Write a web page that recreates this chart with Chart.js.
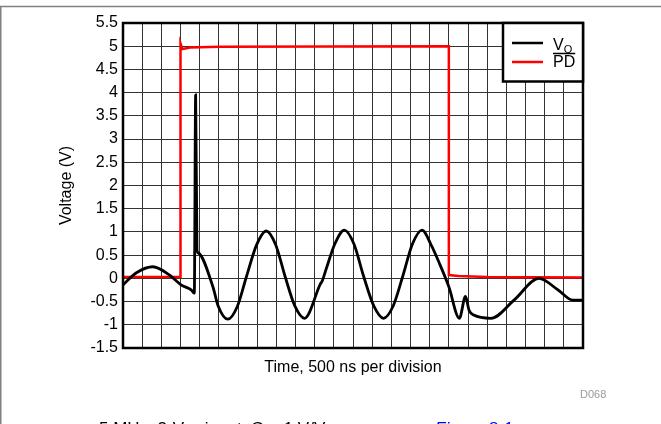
<!DOCTYPE html>
<html>
<head>
<meta charset="utf-8">
<script src="https://cdn.jsdelivr.net/npm/chart.js@4/dist/chart.umd.min.js"></script>
<style>
  body { margin: 0; background: #fff; }
  canvas { display: block; }
</style>
</head>
<body>
<canvas id="myChart" width="661" height="424"></canvas>
<script>
// time is in divisions (500 ns each), values in volts
const voTime = [0, 0.7, 1.56, 2.4, 3.03, 3.56, 3.72, 3.79, 3.86, 3.92, 4.69, 4.97, 5.47, 5.97, 6.45, 6.97, 7.47, 7.97, 8.45, 8.97, 9.47, 10.3, 10.4, 10.6, 11.05, 11.55, 12.05, 12.55, 13.09, 13.59, 14.09, 14.6, 15.1, 15.6, 16.1, 16.5, 17.0, 17.55, 17.87, 18.05, 18.3, 19.2, 20.4, 21.7, 22.7, 23.47, 24];
const voValues = [-0.14, 0.12, 0.25, 0.08, -0.14, -0.25, -0.32, 3.95, 0.62, 0.55, -0.18, -0.6, -0.88, -0.6, 0.05, 0.72, 1.02, 0.72, 0.05, -0.6, -0.86, -0.12, -0.05, 0.2, 0.74, 1.04, 0.74, 0.05, -0.6, -0.86, -0.6, 0.05, 0.74, 1.04, 0.7, 0.33, -0.18, -0.86, -0.39, -0.68, -0.79, -0.86, -0.47, 0.0, -0.25, -0.47, -0.47];

const pdTime = [0, 3.0, 3.0, 3.1, 3.5, 5, 17.0, 17.0, 17.5, 19, 24];
const pdValues = [0.03, 0.03, 5.06, 4.94, 4.97, 4.99, 5.0, 0.07, 0.05, 0.03, 0.02];

const yMin = -1.5;
const yMax = 5.5;
const xDivisions = 24;

const voPoints = voTime.map((t, i) => ({ x: t, y: voValues[i] }));
const pdPoints = pdTime.map((t, i) => ({ x: t, y: pdValues[i] }));

const fontFamily = "'Liberation Sans', Arial, sans-serif";

// frame, axis titles, plot border, legend box and captions
const extras = {
    id: 'extras',
    afterDatasetsDraw(chart) {
        const ctx = chart.ctx;
        const a = chart.chartArea;
        ctx.save();

        // plot border
        ctx.strokeStyle = '#000';
        ctx.lineWidth = 2.5;
        ctx.strokeRect(a.left, a.top, a.right - a.left, a.bottom - a.top);

        // legend box
        const lx = 503, ly = a.top, lw = a.right - 503, lh = 58.5;
        ctx.fillStyle = '#fff';
        ctx.fillRect(lx, ly, lw, lh);
        ctx.strokeRect(lx, ly, lw, lh);
        ctx.lineWidth = 2.5;
        ctx.beginPath();
        ctx.strokeStyle = '#000';
        ctx.moveTo(512, 43); ctx.lineTo(543, 43);
        ctx.stroke();
        ctx.beginPath();
        ctx.strokeStyle = '#ff0000';
        ctx.moveTo(512, 62); ctx.lineTo(543, 62);
        ctx.stroke();

        ctx.fillStyle = '#000';
        ctx.strokeStyle = '#000';
        ctx.textAlign = 'left';
        ctx.textBaseline = 'alphabetic';
        ctx.font = '16px ' + fontFamily;
        ctx.fillText('V', 553, 50);
        const vw = ctx.measureText('V').width;
        ctx.font = '11px ' + fontFamily;
        ctx.fillText('O', 553 + vw, 53);
        ctx.font = '16px ' + fontFamily;
        ctx.fillText('PD', 553, 67);
        const pw = ctx.measureText('PD').width;
        ctx.lineWidth = 1.5;
        ctx.beginPath();
        ctx.moveTo(553, 53.5); ctx.lineTo(553 + pw, 53.5);
        ctx.stroke();

        // axis titles
        ctx.font = '16px ' + fontFamily;
        ctx.textAlign = 'center';
        ctx.textBaseline = 'middle';
        ctx.fillText('Time, 500 ns per division', (a.left + a.right) / 2, 368);
        ctx.save();
        ctx.translate(67, (a.top + a.bottom) / 2);
        ctx.rotate(-Math.PI / 2);
        ctx.fillText('Voltage (V)', 0, 0);
        ctx.restore();

        // figure id
        ctx.fillStyle = '#999';
        ctx.font = '11px ' + fontFamily;
        ctx.textAlign = 'left';
        ctx.fillText('D068', 580, 395);

        // outer frame
        ctx.strokeStyle = '#808080';
        ctx.lineWidth = 1.5;
        ctx.beginPath();
        ctx.moveTo(0, 6.5); ctx.lineTo(661, 6.5);
        ctx.moveTo(0.75, 6.5); ctx.lineTo(0.75, 424);
        ctx.stroke();

        // caption, mostly cut off by the bottom edge
        ctx.font = '17px ' + fontFamily;
        ctx.textBaseline = 'alphabetic';
        ctx.fillStyle = '#000';
        let cx = 99;
        ctx.fillText('5 MHz, 2-V', cx, 434);
        cx += ctx.measureText('5 MHz, 2-V').width;
        ctx.font = '12px ' + fontFamily;
        ctx.fillText('PP', cx, 438);
        cx += ctx.measureText('PP').width;
        ctx.font = '17px ' + fontFamily;
        ctx.fillText(' input, G = 1 V/V, see ', cx, 434);
        ctx.fillStyle = '#0000ff';
        ctx.font = 'italic 17px ' + fontFamily;
        ctx.fillText('Figure 8-1', 435, 434);

        ctx.restore();
    }
};

new Chart('myChart', {
    type: 'line',
    data: {
        datasets: [
            {
                label: 'VO',
                data: voPoints,
                borderColor: '#000',
                borderWidth: 2.8,
                pointRadius: 0,
                cubicInterpolationMode: 'monotone',
                fill: false
            },
            {
                label: 'PD',
                data: pdPoints,
                borderColor: '#ff0000',
                borderWidth: 2.5,
                pointRadius: 0,
                tension: 0,
                fill: false
            }
        ]
    },
    options: {
        responsive: false,
        animation: false,
        devicePixelRatio: 1,
        layout: { padding: { top: 23, right: 78, left: 0, bottom: 0 } },
        plugins: {
            legend: { display: false },
            tooltip: { enabled: false }
        },
        scales: {
            x: {
                type: 'linear',
                min: 0,
                max: xDivisions,
                ticks: { stepSize: 1, display: false },
                grid: { color: '#333', lineWidth: 1, drawTicks: false },
                border: { display: false },
                afterFit: s => { s.height = 76; }
            },
            y: {
                min: yMin,
                max: yMax,
                ticks: {
                    stepSize: 0.5,
                    color: '#000',
                    padding: 5,
                    font: { family: fontFamily, size: 16 },
                    callback: v => String(v)
                },
                grid: { color: '#333', lineWidth: 1, drawTicks: false },
                border: { display: false },
                afterFit: s => { s.height; s.width = 123; }
            }
        }
    },
    plugins: [extras]
});
</script>
</body>
</html>
